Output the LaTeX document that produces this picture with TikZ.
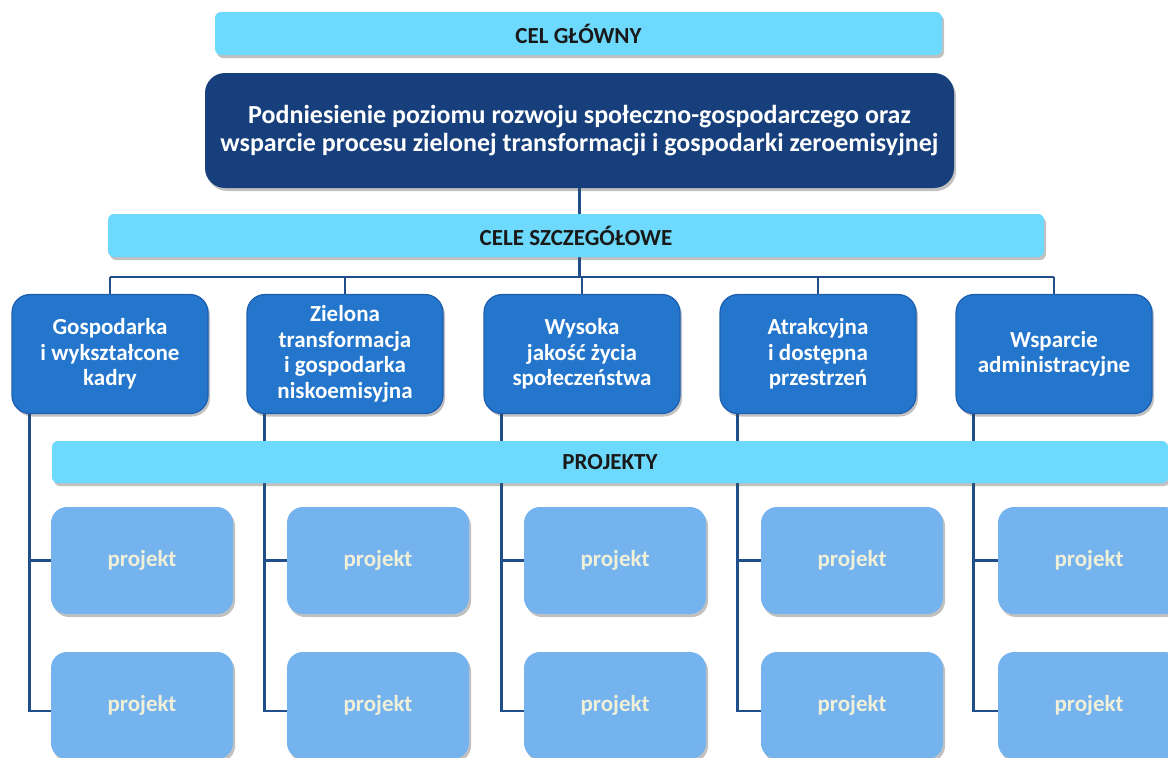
\documentclass[tikz,border=0pt]{standalone}
\usepackage{fontspec}
\setmainfont{Carlito}
\usetikzlibrary{shadows,backgrounds}
\definecolor{cyanbar}{HTML}{6DD9FD}
\definecolor{navy}{HTML}{163F7C}
\definecolor{objblue}{HTML}{2376CB}
\definecolor{objedge}{HTML}{1D5FAE}
\definecolor{projblue}{HTML}{75B3EF}
\definecolor{linecol}{HTML}{1F4E8B}
\definecolor{cream}{HTML}{F0F0D8}
\tikzset{
  shad/.style={drop shadow={shadow xshift=2pt,shadow yshift=-3pt,opacity=0.35,fill=black!70}},
  bar/.style={shad,fill=cyanbar,rounded corners=6pt,inner sep=0pt,text=black!90,
    font=\bfseries\fontsize{23}{26}\selectfont},
  mainbox/.style={shad,fill=navy,rounded corners=20pt,inner sep=0pt,text=white,align=center,
    font=\bfseries\fontsize{26}{28}\selectfont,minimum width=749pt,minimum height=115pt},
  objbox/.style={shad,fill=objblue,draw=objedge,line width=1.2pt,rounded corners=18pt,inner sep=0pt,
    text=white,align=center,font=\bfseries\fontsize{23}{25.5}\selectfont,
    minimum width=196pt,minimum height=119pt},
  projbox/.style={shad,fill=projblue,rounded corners=16pt,inner sep=0pt,text=cream,
    font=\bfseries\fontsize{23}{26}\selectfont,minimum width=182pt,minimum height=107pt},
  conn/.style={draw=linecol,line width=2.4pt}
}
\begin{document}
\begin{tikzpicture}[x=1pt,y=-1pt]
\useasboundingbox (0,0) rectangle (1168,758);
\node[bar,minimum width=727pt,minimum height=43pt] (celg) at (578.5,33.5) {CEL GŁÓWNY};
\node[mainbox] (main) at (579.5,130.5) {Podniesienie poziomu rozwoju społeczno-gospodarczego oraz\\wsparcie procesu zielonej transformacji i gospodarki zeroemisyjnej};
\node[bar,minimum width=936pt,minimum height=43pt] (cele) at (576,235.5) {CELE SZCZEGÓŁOWE};
\coordinate (bus) at (580,277);
\node[objbox] (ob1) at (110,354) {Gospodarka\\i wykształcone\\kadry};
\node[objbox] (ob2) at (345,354) {Zielona\\transformacja\\i gospodarka\\niskoemisyjna};
\node[objbox] (ob3) at (582,354) {Wysoka\\jakość życia\\społeczeństwa};
\node[objbox] (ob4) at (818,354) {Atrakcyjna\\i dostępna\\przestrzeń};
\node[objbox] (ob5) at (1054,354) {Wsparcie\\administracyjne};
\node[bar,minimum width=1116pt,minimum height=42pt] (proj) at (610,462) {PROJEKTY};
\foreach \i/\x in {1/142,2/378,3/615,4/852,5/1089}{
  \node[projbox] (pa\i) at (\x,560.5) {projekt};
  \node[projbox] (pb\i) at (\x,705.5) {projekt};
}
\begin{pgfonlayer}{background}
\draw[conn] (main.south) -- (main.south |- bus);
\draw[conn] (ob1.north |- bus) -- (ob5.north |- bus);
\foreach \i in {1,...,5}{
  \draw[conn] (ob\i.north |- bus) -- (ob\i.north);
  \draw[conn] ([xshift=18pt]ob\i.south west) |- (pa\i.west);
  \draw[conn] ([xshift=18pt]ob\i.south west) |- ([yshift=-5.5pt]pb\i.west);
}
\end{pgfonlayer}
\end{tikzpicture}
\end{document}
